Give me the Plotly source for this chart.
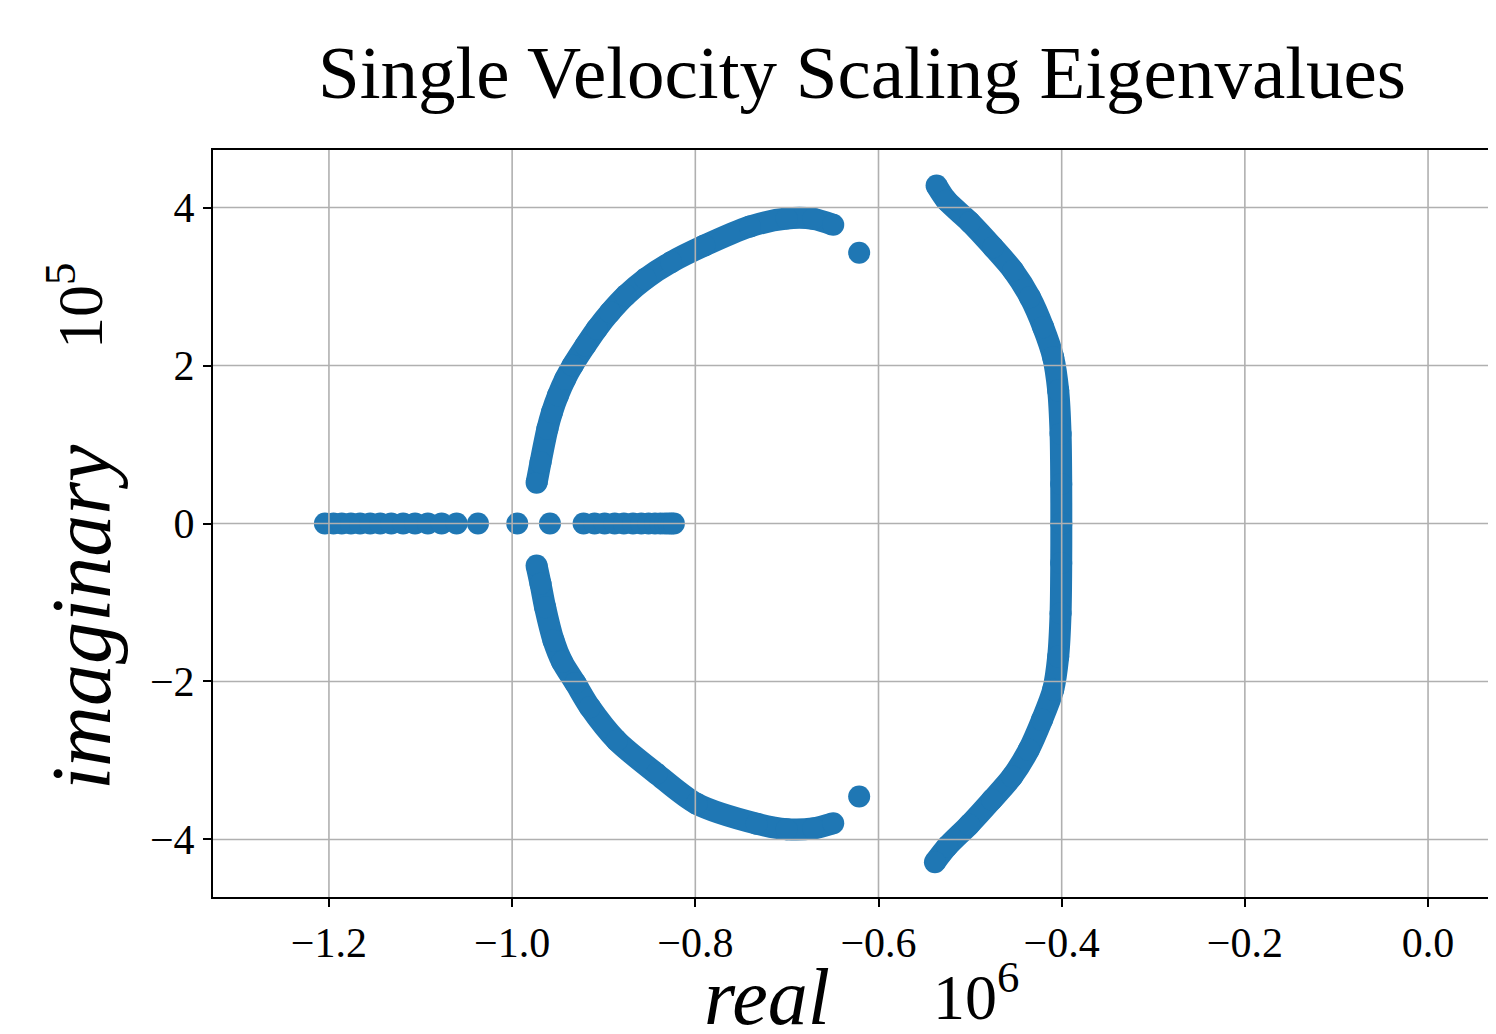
import plotly.graph_objects as go

# ---- data (real part in units of 1e6, imaginary part in units of 1e5) ----
real_axis_left_re = [-1.2044, -1.195, -1.186, -1.176, -1.166, -1.155, -1.144,
                     -1.132, -1.119, -1.106, -1.092, -1.077, -1.0606, -1.0373]
real_axis_mid_re = [-0.9944, -0.9587]
real_axis_right_re = [-0.9220, -0.910, -0.899, -0.888, -0.878, -0.868, -0.859,
                      -0.851, -0.844, -0.838, -0.833, -0.829, -0.826, -0.8234]

left_upper_re = [-0.9733, -0.9690, -0.9615, -0.9565, -0.9500, -0.9420, -0.9340,
                 -0.9200, -0.9075, -0.8930, -0.8760, -0.8545, -0.8265, -0.7900,
                 -0.7404, -0.7003, -0.6713, -0.6494]
left_upper_im = [0.515, 0.776, 1.198, 1.409, 1.620, 1.830, 2.000,
                 2.253, 2.464, 2.675, 2.886, 3.097, 3.308, 3.519,
                 3.760, 3.861, 3.857, 3.781]
left_lower_re = [-0.9733, -0.9690, -0.9640, -0.9548, -0.9455, -0.9310, -0.9151,
                 -0.8859, -0.8422, -0.7986, -0.7331, -0.7003, -0.6713, -0.6494]
left_lower_im = [-0.532, -0.764, -1.060, -1.481, -1.750, -2.020, -2.325,
                 -2.747, -3.169, -3.548, -3.800, -3.870, -3.860, -3.794]
isolated_re = [-0.6211, -0.6211]
isolated_im = [3.427, -3.456]

right_re = [-0.5366, -0.5257, -0.5002, -0.4748, -0.4530, -0.4347, -0.4202,
            -0.4093, -0.4038, -0.4012, -0.4005, -0.4004, -0.4005, -0.4012,
            -0.4038, -0.4093, -0.4215, -0.4360, -0.4540, -0.4760, -0.5010,
            -0.5250, -0.5384]
right_im = [4.278, 4.089, 3.814, 3.497, 3.203, 2.865, 2.485,
            2.105, 1.684, 1.135, 0.500, 0.000, -0.500, -1.135,
            -1.684, -2.105, -2.485, -2.865, -3.203, -3.497, -3.814,
            -4.089, -4.287]

x_ticks = [-1.2, -1.0, -0.8, -0.6, -0.4, -0.2, 0.0]
x_tick_labels = ["\u22121.2", "\u22121.0", "\u22120.8", "\u22120.6", "\u22120.4", "\u22120.2", "0.0"]
y_ticks = [-4, -2, 0, 2, 4]
y_tick_labels = ["\u22124", "\u22122", "0", "2", "4"]

BLUE = "#1f77b4"
MS = 22

fig = go.Figure()

def markers(xs, ys):
    fig.add_trace(go.Scatter(
        x=xs, y=ys, mode="markers", showlegend=False, hoverinfo="skip",
        marker=dict(size=MS, color=BLUE, line=dict(width=0))))

def band(xs, ys):
    fig.add_trace(go.Scatter(
        x=xs, y=ys, mode="lines+markers", showlegend=False, hoverinfo="skip",
        line=dict(color=BLUE, width=MS, shape="spline", smoothing=0.8),
        marker=dict(size=MS, color=BLUE, line=dict(width=0))))

markers(real_axis_left_re, [0.0] * len(real_axis_left_re))
markers(real_axis_mid_re, [0.0] * len(real_axis_mid_re))
markers(real_axis_right_re, [0.0] * len(real_axis_right_re))
band(left_upper_re, left_upper_im)
band(left_lower_re, left_lower_im)
markers(isolated_re, isolated_im)
band(right_re, right_im)

# The page body adds an 8px margin, so the figure is laid out in page pixels minus 8.
OFF = 8
W, H = 1496 - OFF, 1034 - OFF
L, T = 213 - OFF, 150 - OFF
R = 0
B = H - (897 - OFF)
pw, ph = W - L - R, H - T - B

def px(page_x):
    return (page_x - OFF - L) / pw

def py(page_y):
    return (H - B - (page_y - OFF)) / ph

# grid lines drawn above markers (as in the reference)
shapes = []
for xv in x_ticks:
    shapes.append(dict(type="line", xref="x", yref="paper", x0=xv, x1=xv, y0=0, y1=1,
                       line=dict(color="#b0b0b0", width=1.6), layer="above"))
for yv in y_ticks:
    shapes.append(dict(type="line", xref="paper", yref="y", x0=0, x1=1, y0=yv, y1=yv,
                       line=dict(color="#b0b0b0", width=1.6), layer="above"))

SERIF = "Liberation Serif"

annotations = [
    dict(text="<i>real</i>", x=px(767), y=py(997), xref="paper", yref="paper",
         showarrow=False, xanchor="center", yanchor="middle",
         font=dict(family=SERIF, size=80, color="black")),
    dict(text="10<sup>6</sup>", x=px(931), y=py(992), xref="paper", yref="paper",
         showarrow=False, xanchor="left", yanchor="middle",
         font=dict(family=SERIF, size=64, color="black")),
    dict(text="<i>imaginary</i>", x=px(81), y=py(617), xref="paper", yref="paper",
         showarrow=False, xanchor="center", yanchor="middle", textangle=-90,
         font=dict(family=SERIF, size=84, color="black")),
    dict(text="10<sup>5</sup>", x=px(75), y=py(306), xref="paper", yref="paper",
         showarrow=False, xanchor="center", yanchor="middle", textangle=-90,
         font=dict(family=SERIF, size=64, color="black")),
]

fig.update_layout(
    width=W, height=H,
    margin=dict(l=L, r=R, t=T, b=B, pad=0),
    paper_bgcolor="white", plot_bgcolor="white",
    title=dict(text="Single Velocity Scaling Eigenvalues", x=(862 - OFF) / W, xref="container",
               xanchor="center", y=1 - (72 - OFF) / H, yref="container", yanchor="middle",
               font=dict(family=SERIF, size=75, color="black")),
    xaxis=dict(range=[-1.3266, 0.0742], tickvals=x_ticks, ticktext=x_tick_labels,
               showgrid=False, zeroline=False, showline=True, linecolor="black",
               linewidth=2, mirror=True, ticks="outside", ticklen=8, tickwidth=1.5,
               tickcolor="black", tickfont=dict(family=SERIF, size=42, color="black")),
    yaxis=dict(range=[-4.728, 4.728], tickvals=y_ticks, ticktext=y_tick_labels,
               showgrid=False, zeroline=False, showline=True, linecolor="black",
               linewidth=2, mirror=False, ticks="outside", ticklen=8, tickwidth=1.5,
               tickcolor="black", tickfont=dict(family=SERIF, size=42, color="black")),
    shapes=shapes,
    annotations=annotations,
)

fig.write_html("out.html")
